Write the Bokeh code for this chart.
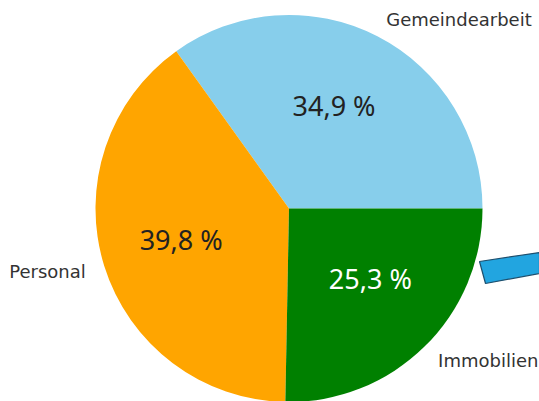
import math
from bokeh.plotting import figure
from bokeh.models import Range1d, ColumnDataSource
from bokeh.core.properties import value
from bokeh.embed import file_html
from bokeh.resources import INLINE

# data
categories = ["Gemeindearbeit", "Personal", "Immobilien"]
shares = [34.9, 39.8, 25.3]
pct_labels = ["34,9 %", "39,8 %", "25,3 %"]
colors = ["#87CEEB", "#FFA500", "#008000"]
pct_colors = ["#222222", "#222222", "#ffffff"]

# decorative blue shape at the right edge (page pixel coords)
deco_x = [479, 485, 539, 539]
deco_y = [261, 283, 273, 252]

W, H = 539, 401
cx, cy, r = 288.5, H - 208, 193.5

p = figure(width=W, height=H, output_backend="svg", toolbar_location=None,
           x_range=Range1d(0, W), y_range=Range1d(0, H),
           min_border=0, outline_line_color=None)
p.axis.visible = False
p.grid.visible = False
p.background_fill_color = "white"

total = sum(shares)
starts, ends, mids = [], [], []
a = 0.0
for s in shares:
    span = 2 * math.pi * s / total
    starts.append(a)
    ends.append(a + span)
    mids.append(a + span / 2)
    a += span

src = ColumnDataSource(dict(start=starts, end=ends, color=colors))
p.wedge(x=cx, y=cy, radius=r, start_angle="start", end_angle="end",
        fill_color="color", line_color=None, direction="anticlock", source=src)

# outer labels (labeldistance 1.1)
lx = [cx + 1.1 * r * math.cos(m) for m in mids]
ly = [cy + 1.1 * r * math.sin(m) for m in mids]
aligns = ["left" if math.cos(m) > 0 else "right" for m in mids]
p.text(x=lx, y=ly, text=categories, text_align=aligns, text_baseline="middle",
       text_font=value("DejaVu Sans"), text_font_size="18px", text_color="#333333")

# percentage labels
pct_dx = [-8, 3, 0]
pct_dy = [0, 3, 13]
px = [cx + 0.6 * r * math.cos(m) + dx for m, dx in zip(mids, pct_dx)]
py = [cy + 0.6 * r * math.sin(m) + dy for m, dy in zip(mids, pct_dy)]
p.text(x=px, y=py, text=pct_labels, text_align="center", text_baseline="middle",
       text_font=value("Noto Sans"), text_font_size="27px", text_color=pct_colors)

# decorative shape
p.patch(x=deco_x, y=[H - v for v in deco_y], fill_color="#22A5E0",
        line_color="#1d4f6e", line_width=1.2)

open("out.html", "w").write(file_html(p, INLINE))
